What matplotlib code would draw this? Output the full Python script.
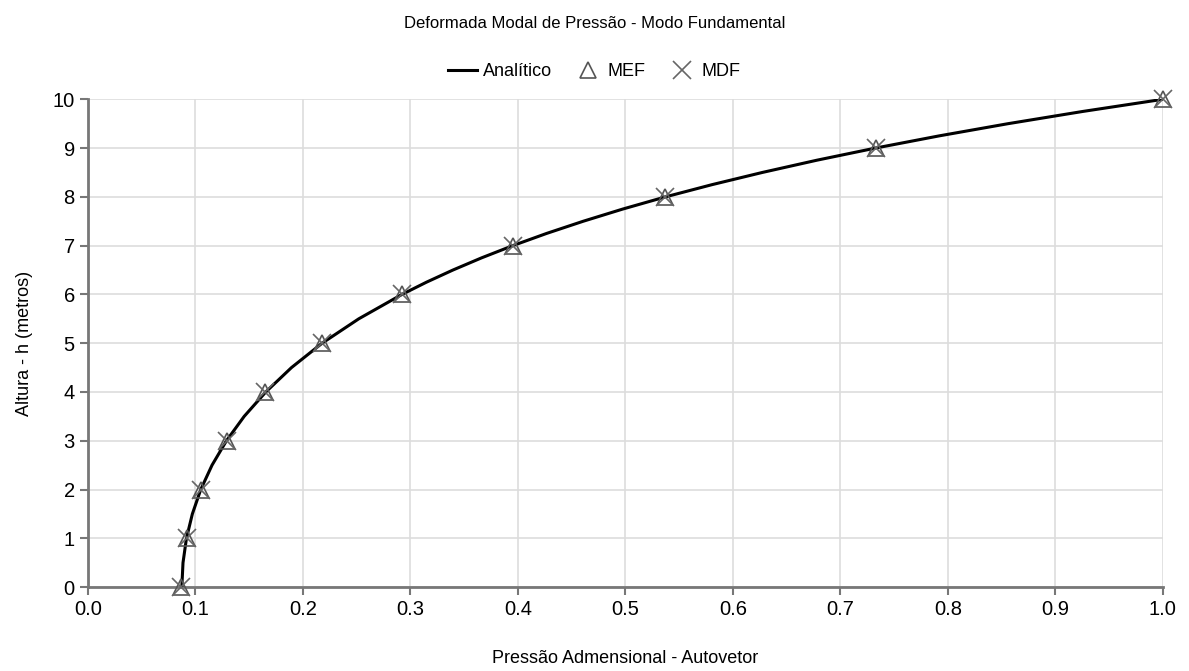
import matplotlib.pyplot as plt

plt.rcParams['font.family'] = ['Liberation Sans', 'DejaVu Sans']

# Analytic curve
h_analytic = [0, 0.5, 1, 1.5, 2, 2.5, 3, 3.5, 4, 4.5, 5, 5.5, 6, 6.25, 6.5, 6.75, 7, 7.25, 7.5, 7.75,
              8, 8.25, 8.5, 8.75, 9, 9.25, 9.5, 9.75, 10]
p_analytic = [0.0873, 0.0884, 0.0916, 0.0971, 0.1049, 0.1154, 0.1288, 0.1453, 0.1654, 0.1893,
              0.2178, 0.2519, 0.2921, 0.3148, 0.3395, 0.3662, 0.3952, 0.4266, 0.4607, 0.4975,
              0.5373, 0.5805, 0.6273, 0.6778, 0.7326, 0.7918, 0.8559, 0.9252, 1.0]

# Numerical solutions at nodes
h_nodes = [0, 1, 2, 3, 4, 5, 6, 7, 8, 9, 10]
p_mef = [0.087, 0.092, 0.105, 0.129, 0.165, 0.218, 0.292, 0.395, 0.537, 0.733, 1.0]
p_mdf = [0.087, 0.092, 0.105, 0.129, 0.165, 0.218, 0.292, 0.395, 0.537, 0.733, 1.0]

fig = plt.figure(figsize=(11.89, 6.71), dpi=100)
ax = fig.add_axes([0.074, 0.125, 0.904, 0.727])

ax.plot(p_analytic, h_analytic, color='black', lw=2.2, label='Analítico', zorder=3)
ax.plot(p_mef, h_nodes, linestyle='none', marker='^', ms=11, mfc='none', mec='#555555',
        mew=1.2, label='MEF', zorder=4, clip_on=False)
ax.plot(p_mdf, h_nodes, linestyle='none', marker='x', ms=13, mec='#666666',
        mew=1.2, label='MDF', zorder=4, clip_on=False)

ax.set_xlim(0, 1.0)
ax.set_ylim(0, 10)
ax.set_xticks([i / 10 for i in range(11)])
ax.set_xticklabels([f'{i / 10:.1f}' for i in range(11)])
ax.set_yticks(range(11))
ax.grid(True, color='#dddddd', lw=1.2)
ax.set_axisbelow(True)
for s in ['top', 'right']:
    ax.spines[s].set_visible(False)
for s in ['left', 'bottom']:
    ax.spines[s].set_color('#777777')
    ax.spines[s].set_linewidth(2)
ax.tick_params(labelsize=14.5, color='#777777', length=6, width=1.5)

ax.set_xlabel('Pressão Admensional - Autovetor', fontsize=13, labelpad=22)
ax.set_ylabel('Altura - h (metros)', fontsize=13, labelpad=14)
fig.text(0.5, 0.965, 'Deformada Modal de Pressão - Modo Fundamental', ha='center', va='center', fontsize=12)

leg = fig.legend(loc='center', bbox_to_anchor=(0.5, 0.893), ncol=3, frameon=False, fontsize=13,
                 handlelength=1.6, handletextpad=0.3, columnspacing=1.2)

plt.savefig('out.png', dpi=100)
